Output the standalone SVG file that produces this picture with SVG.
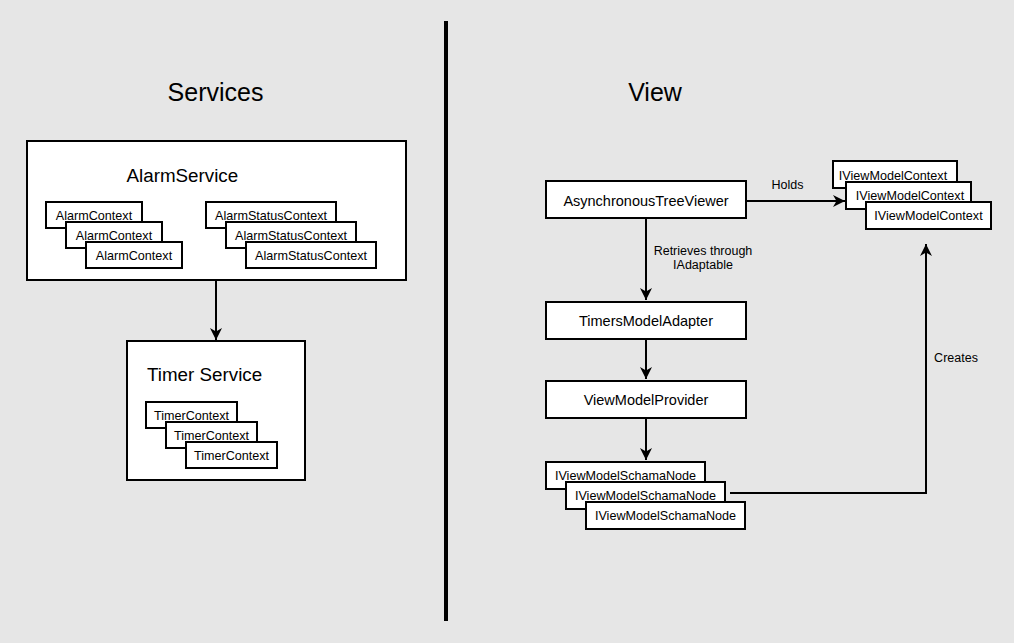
<svg xmlns="http://www.w3.org/2000/svg" width="1014" height="643" viewBox="0 0 1014 643">
<style>
text{font-family:"Liberation Sans",Arial,sans-serif;fill:#000}
.box{fill:#fff;stroke:#000;stroke-width:2}
.title{font-size:25px;text-anchor:middle}
.svc{font-size:18.8px}
.big{font-size:14.5px;text-anchor:middle}
.sm{font-size:12.6px;text-anchor:middle}
.lbl{font-size:12.5px;text-anchor:middle}
.con{fill:none;stroke:#000;stroke-width:2}
</style>
<defs>
<marker id="arr" markerUnits="userSpaceOnUse" markerWidth="13" markerHeight="13" refX="12" refY="6.5" orient="auto">
<path d="M0,0.5 L12,6.5 L0,12.5 L3.5,6.5 z" fill="#000"/>
</marker>
</defs>
<rect x="0" y="0" width="1014" height="643" fill="#e6e6e6"/>
<line x1="446" y1="21" x2="446" y2="621" stroke="#000" stroke-width="4"/>
<text class="title" x="215.5" y="101">Services</text>
<text class="title" x="655" y="101">View</text>

<g id="alarmService">
<rect class="box" x="27" y="141" width="379" height="139"/>
<text class="svc" x="126.5" y="181.5">AlarmService</text>
</g>
<g id="alarmContext1"><rect class="box" x="46" y="202" width="96" height="26"/><text class="sm" x="94" y="219.6">AlarmContext</text></g>
<g id="alarmContext2"><rect class="box" x="66" y="222" width="96" height="26"/><text class="sm" x="114" y="239.6">AlarmContext</text></g>
<g id="alarmContext3"><rect class="box" x="86" y="242" width="96" height="26"/><text class="sm" x="134" y="260">AlarmContext</text></g>
<g id="alarmStatusContext1"><rect class="box" x="206" y="202" width="130" height="26"/><text class="sm" x="271" y="219.6">AlarmStatusContext</text></g>
<g id="alarmStatusContext2"><rect class="box" x="226" y="222" width="130" height="26"/><text class="sm" x="291" y="239.6">AlarmStatusContext</text></g>
<g id="alarmStatusContext3"><rect class="box" x="246" y="242" width="130" height="26"/><text class="sm" x="311" y="260">AlarmStatusContext</text></g>

<g id="timerService">
<rect class="box" x="127" y="341" width="178" height="139"/>
<text class="svc" x="147" y="380.7">Timer Service</text>
</g>
<g id="timerContext1"><rect class="box" x="146" y="402" width="91" height="26"/><text class="sm" x="191.5" y="419.6">TimerContext</text></g>
<g id="timerContext2"><rect class="box" x="166" y="422" width="91" height="26"/><text class="sm" x="211.5" y="439.6">TimerContext</text></g>
<g id="timerContext3"><rect class="box" x="186" y="442" width="91" height="26"/><text class="sm" x="231.5" y="460">TimerContext</text></g>

<g id="asyncTreeViewer"><rect class="box" x="546" y="181" width="200" height="37"/><text class="big" x="646" y="205.7">AsynchronousTreeViewer</text></g>
<g id="timersModelAdapter"><rect class="box" x="546" y="302" width="200" height="37"/><text class="big" x="646" y="326">TimersModelAdapter</text></g>
<g id="viewModelProvider"><rect class="box" x="546" y="381" width="200" height="37"/><text class="big" x="646" y="405.3">ViewModelProvider</text></g>

<g id="iViewModelContext1"><rect class="box" x="833" y="161" width="124" height="27"/><text class="sm" x="893" y="179.5">IViewModelContext</text></g>
<g id="iViewModelContext2"><rect class="box" x="846" y="182" width="125" height="27"/><text class="sm" x="910" y="200">IViewModelContext</text></g>
<g id="iViewModelContext3"><rect class="box" x="866" y="202" width="125" height="27"/><text class="sm" x="928.5" y="220">IViewModelContext</text></g>

<g id="schemaNode1"><rect class="box" x="546" y="462" width="159" height="27"/><text class="sm" x="625.5" y="480">IViewModelSchamaNode</text></g>
<g id="schemaNode2"><rect class="box" x="566" y="482" width="159" height="27"/><text class="sm" x="645.5" y="500">IViewModelSchamaNode</text></g>
<g id="schemaNode3"><rect class="box" x="586" y="502" width="159" height="27"/><text class="sm" x="665.5" y="519.5">IViewModelSchamaNode</text></g>

<g id="connectors">
<line class="con" x1="216" y1="281" x2="216" y2="340" marker-end="url(#arr)"/>
<line class="con" x1="747" y1="201" x2="845" y2="201" marker-end="url(#arr)"/>
<line class="con" x1="646" y1="219" x2="646" y2="300" marker-end="url(#arr)"/>
<line class="con" x1="646" y1="339" x2="646" y2="379" marker-end="url(#arr)"/>
<line class="con" x1="646" y1="418" x2="646" y2="460" marker-end="url(#arr)"/>
<polyline class="con" points="730,493 926,493 926,244" marker-end="url(#arr)"/>
<text class="lbl" x="787.5" y="189">Holds</text>
<text class="lbl" x="703" y="255">Retrieves through</text>
<text class="lbl" x="703" y="269">IAdaptable</text>
<text class="lbl" x="956" y="361.7">Creates</text>
</g>
</svg>
